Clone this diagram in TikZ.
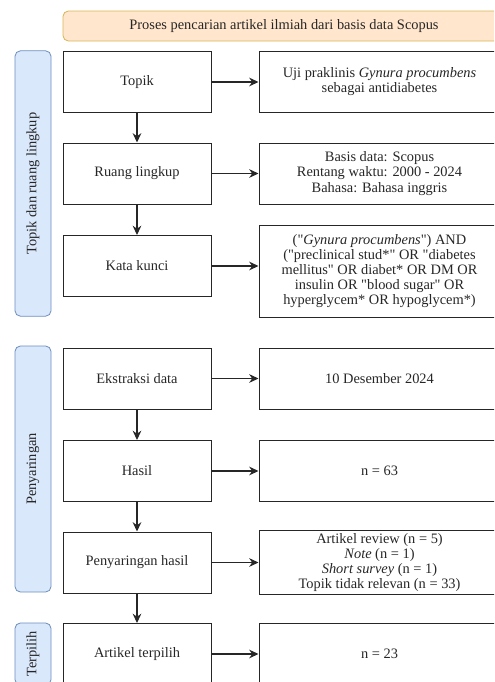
\documentclass[tikz,border=0pt]{standalone}
\usepackage{fontspec}
\setmainfont{Liberation Serif}
\usetikzlibrary{arrows.meta}
\definecolor{titlefill}{HTML}{FFE6CC}
\definecolor{titledraw}{HTML}{D6B656}
\definecolor{groupfill}{HTML}{DAE8FC}
\definecolor{groupdraw}{HTML}{6C8EBF}
\newcommand{\kutip}{\textquotedbl}
\tikzset{
  leftbox/.style={draw=black!85, line width=0.75pt, minimum width=111pt, minimum height=45.75pt, align=center, inner sep=2pt},
  rightbox/.style={leftbox, minimum width=180.75pt},
  grouplabel/.style={draw=groupdraw, fill=groupfill, line width=0.6pt, rounded corners=4pt, rotate=90, minimum height=27pt, inner sep=1pt},
  flow/.style={-{Stealth[length=7pt,width=6.5pt]}, line width=0.9pt, draw=black!85}
}

\begin{document}
\begin{tikzpicture}[x=0.75pt, y=-0.75pt, font=\fontsize{10.8}{11.3}\selectfont, text=black!85]
                % \helpgrid{3}{3}
                \useasboundingbox (0,0) rectangle (494,682);
                \clip (0,0) rectangle (494,682);

                \node at (284,26) [draw=titledraw, fill=titlefill, line width=0.6pt, rounded corners=4pt, minimum width=331.5pt, minimum height=22.5pt] (judul) {Proses pencarian artikel ilmiah dari basis data Scopus};

                \node at (33,183.5) [grouplabel, minimum width=199pt] (grup1) {Topik dan ruang lingkup};
                \node at (33,469) [grouplabel, minimum width=184.5pt] (grup2) {Penyaringan};
                \node at (33,654) [grouplabel, minimum width=46.5pt] (grup3) {Terpilih};

                \node at (137,82) [leftbox] (topik) {Topik};
                \node at (137,173.5) [leftbox] (ruang) {Ruang lingkup};
                \node at (137,266) [leftbox] (kata) {Kata kunci};
                \node at (137,378.5) [leftbox] (ekstraksi) {Ekstraksi data};
                \node at (137,471) [leftbox] (hasil) {Hasil};
                \node at (137,562.5) [leftbox] (saring) {Penyaringan hasil};
                \node at (137,654) [leftbox] (terpilih) {Artikel terpilih};

                \node at (379.5,82) [rightbox] (topikR) {Uji praklinis \textit{Gynura procumbens}\\sebagai antidiabetes};
                \node at (379.5,173.5) [rightbox] (ruangR) {Basis data: Scopus\\Rentang waktu: 2000 - 2024\\Bahasa: Bahasa inggris};
                \node at (379.5,271) [rightbox, minimum height=69pt] (kataR) {(\kutip\textit{Gynura procumbens}\kutip) AND\\(\kutip preclinical stud*\kutip{} OR \kutip diabetes\\mellitus\kutip{} OR diabet* OR DM OR\\insulin OR \kutip blood sugar\kutip{} OR\\hyperglycem* OR hypoglycem*)};
                \node at (379.5,378.5) [rightbox] (ekstraksiR) {10 Desember 2024};
                \node at (379.5,471) [rightbox] (hasilR) {n = 63};
                \node at (379.5,562.5) [rightbox] (saringR) {Artikel review (n = 5)\\\textit{Note} (n = 1)\\\textit{Short survey} (n = 1)\\Topik tidak relevan (n = 33)};
                \node at (379.5,654) [rightbox] (terpilihR) {n = 23};

                \draw [flow] (topik)--(ruang);
                \draw [flow] (ruang)--(kata);
                \draw [flow] (ekstraksi)--(hasil);
                \draw [flow] (hasil)--(saring);
                \draw [flow] (saring)--(terpilih);

                \draw [flow] (topik)--(topikR);
                \draw [flow] (ruang)--(ruangR);
                \draw [flow] (kata)--(kata -| kataR.west);
                \draw [flow] (ekstraksi)--(ekstraksiR);
                \draw [flow] (hasil)--(hasilR);
                \draw [flow] (saring)--(saringR);
                \draw [flow] (terpilih)--(terpilihR);
            \end{tikzpicture}
\end{document}
